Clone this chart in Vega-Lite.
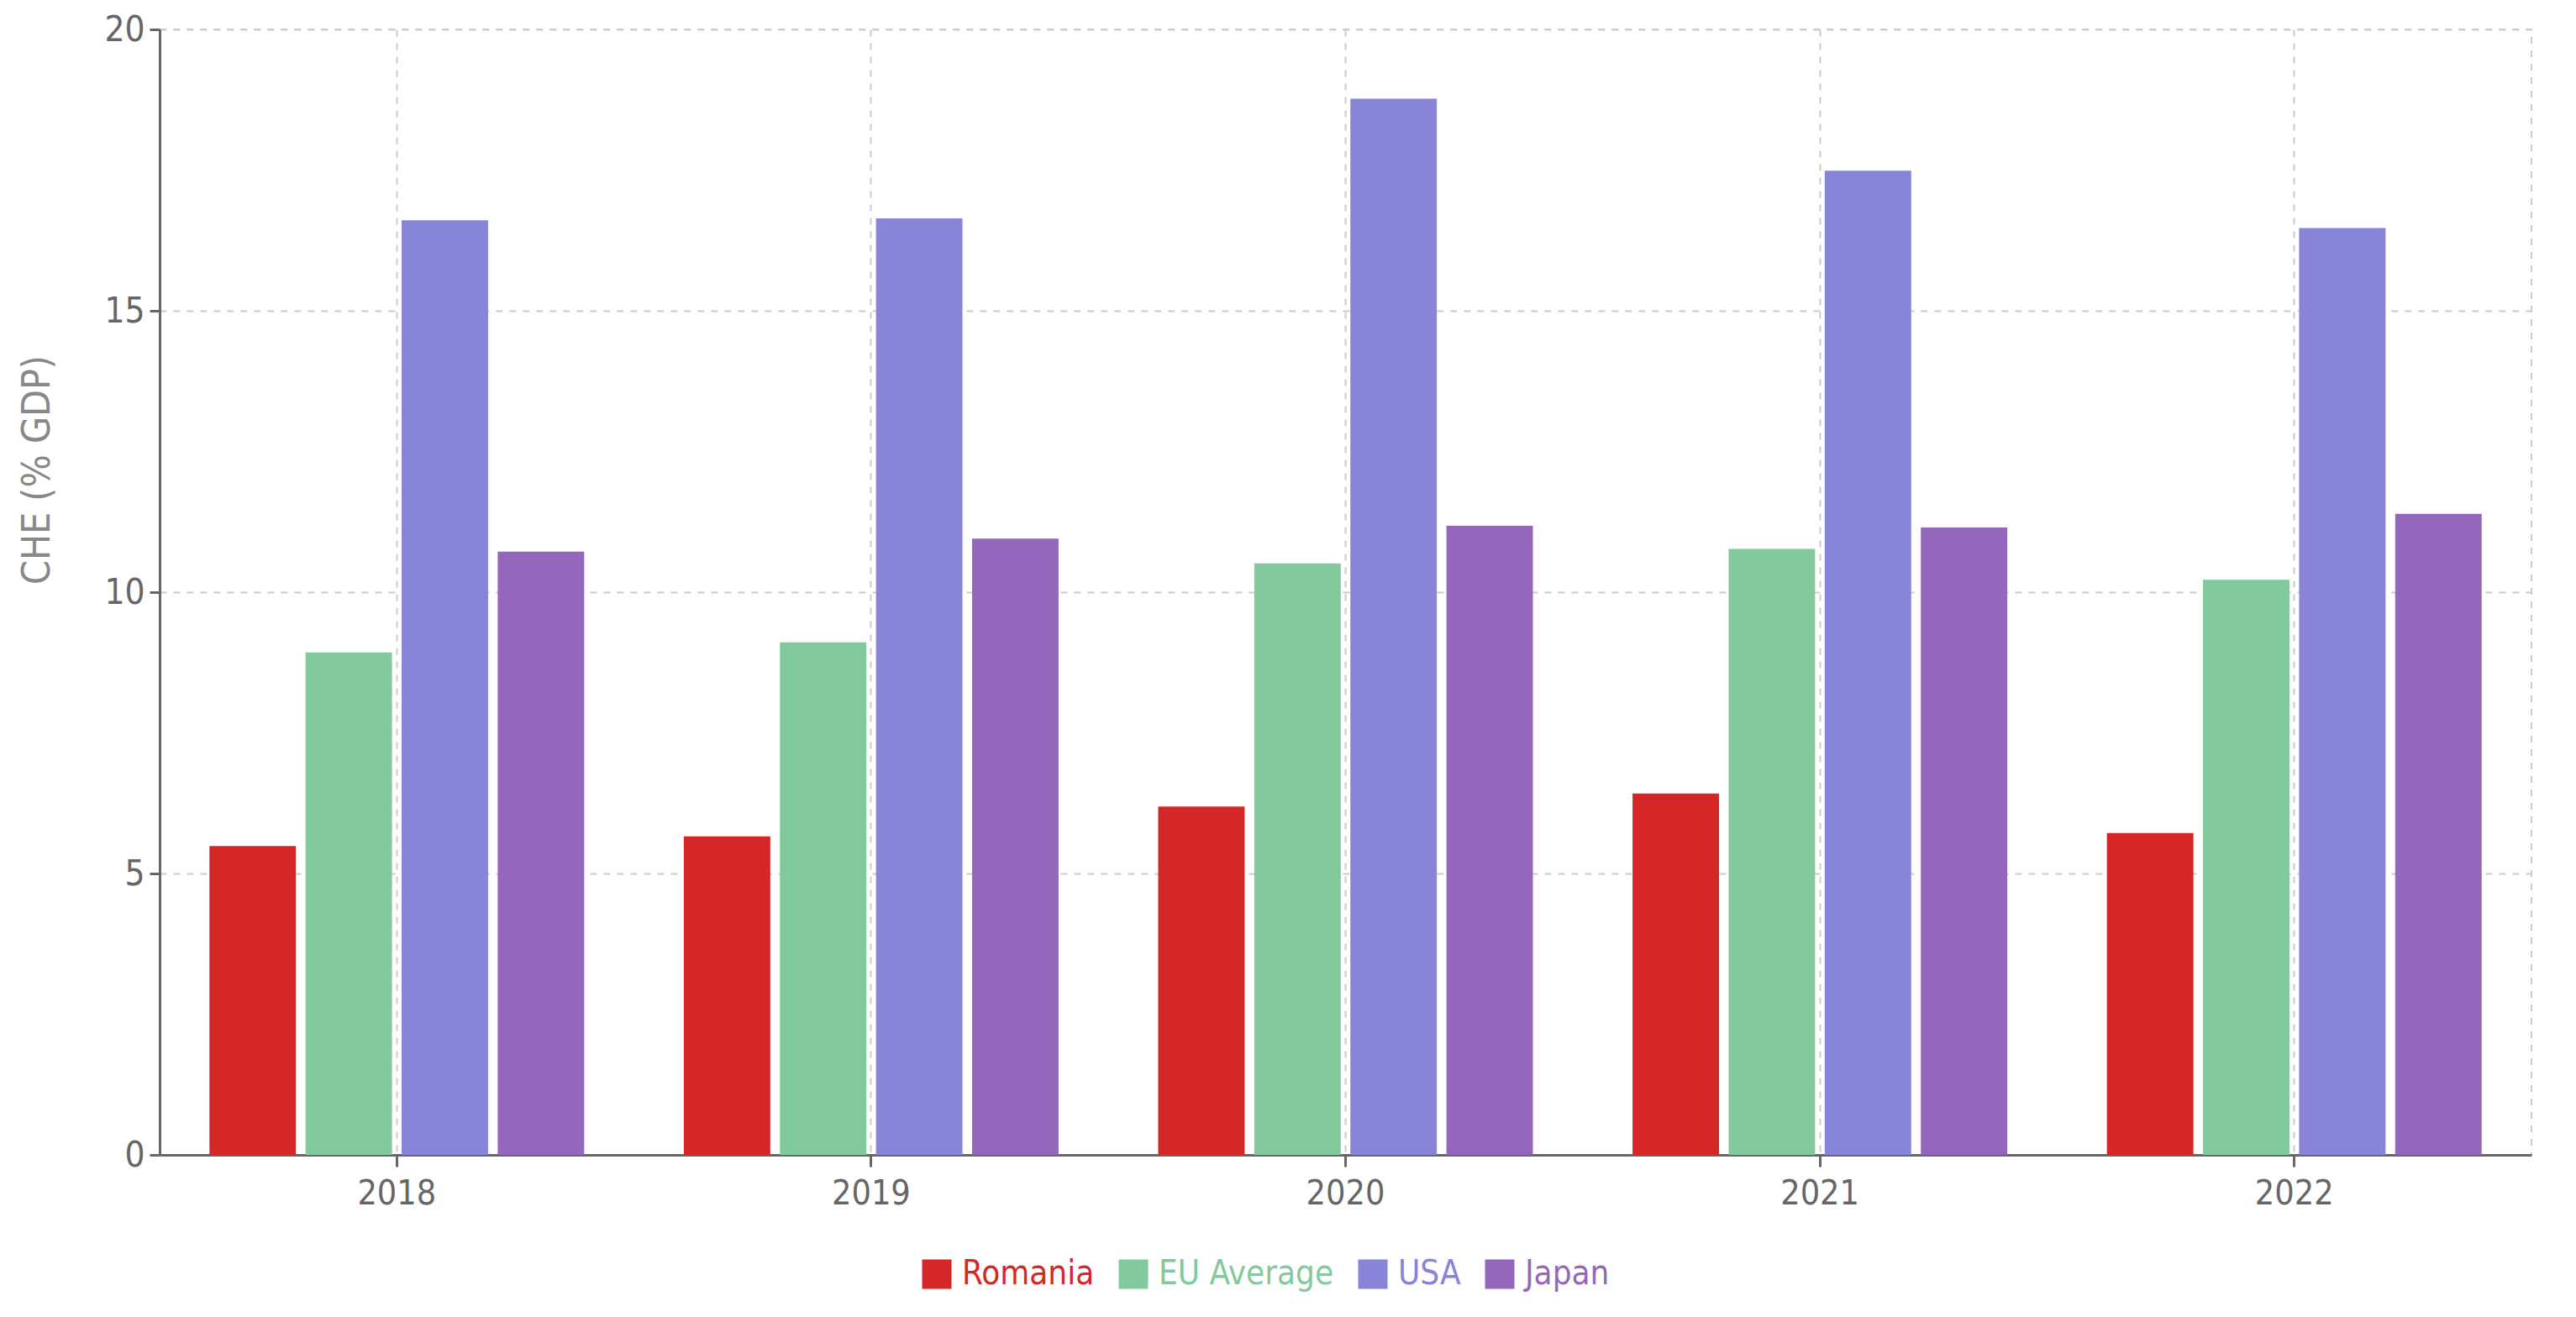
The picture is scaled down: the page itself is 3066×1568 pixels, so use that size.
{
  "$schema": "https://vega.github.io/schema/vega-lite/v6.json",
  "width": 2823,
  "height": 1340,
  "autosize": {"type": "none"},
  "padding": {"left": 190, "top": 35, "right": 53, "bottom": 193},
  "background": "white",
  "config": {
    "font": "DejaVu Sans Condensed, Open Sans, sans-serif",
    "view": {"stroke": "#cccccc", "strokeDash": [8, 8], "strokeWidth": 2}
  },
  "data": {
    "values": [
      {"year": "2018", "country": "Romania", "value": 5.49},
      {"year": "2018", "country": "EU Average", "value": 8.93},
      {"year": "2018", "country": "USA", "value": 16.61},
      {"year": "2018", "country": "Japan", "value": 10.72},
      {"year": "2019", "country": "Romania", "value": 5.66},
      {"year": "2019", "country": "EU Average", "value": 9.11},
      {"year": "2019", "country": "USA", "value": 16.64},
      {"year": "2019", "country": "Japan", "value": 10.95},
      {"year": "2020", "country": "Romania", "value": 6.19},
      {"year": "2020", "country": "EU Average", "value": 10.51},
      {"year": "2020", "country": "USA", "value": 18.77},
      {"year": "2020", "country": "Japan", "value": 11.18},
      {"year": "2021", "country": "Romania", "value": 6.42},
      {"year": "2021", "country": "EU Average", "value": 10.77},
      {"year": "2021", "country": "USA", "value": 17.49},
      {"year": "2021", "country": "Japan", "value": 11.15},
      {"year": "2022", "country": "Romania", "value": 5.72},
      {"year": "2022", "country": "EU Average", "value": 10.22},
      {"year": "2022", "country": "USA", "value": 16.47},
      {"year": "2022", "country": "Japan", "value": 11.39}
    ]
  },
  "mark": {"type": "bar"},
  "encoding": {
    "x": {
      "field": "year",
      "type": "nominal",
      "scale": {"paddingInner": 0.21, "paddingOuter": 0.105},
      "axis": {
        "title": null,
        "labelAngle": 0,
        "labelFontSize": 41,
        "labelColor": "#666666",
        "domainColor": "#666666",
        "domainWidth": 3,
        "tickColor": "#666666",
        "tickWidth": 3,
        "tickSize": 14,
        "labelPadding": 12,
        "grid": true,
        "gridDash": [8, 8],
        "gridColor": "#cccccc",
        "gridWidth": 2,
        "bandPosition": 0.5
      }
    },
    "xOffset": {
      "field": "country",
      "type": "nominal",
      "sort": ["Romania", "EU Average", "USA", "Japan"],
      "scale": {"paddingInner": 0.1, "paddingOuter": 0}
    },
    "y": {
      "field": "value",
      "type": "quantitative",
      "scale": {"domain": [0, 20], "nice": false},
      "axis": {
        "values": [0, 5, 10, 15, 20],
        "title": "CHE (% GDP)",
        "titleFontSize": 46,
        "titleFontWeight": "normal",
        "titleColor": "#888888",
        "titleX": -122,
        "titleY": 524,
        "labelFontSize": 42,
        "labelColor": "#666666",
        "labelPadding": 6,
        "domainColor": "#666666",
        "domainWidth": 3,
        "tickColor": "#666666",
        "tickWidth": 3,
        "tickSize": 12,
        "grid": true,
        "gridDash": [8, 8],
        "gridColor": "#cccccc",
        "gridWidth": 2
      }
    },
    "color": {
      "field": "country",
      "type": "nominal",
      "sort": ["Romania", "EU Average", "USA", "Japan"],
      "scale": {
        "domain": ["Romania", "EU Average", "USA", "Japan"],
        "range": ["#d62728", "#82ca9d", "#8884d8", "#9467bd"]
      },
      "legend": {
        "title": null,
        "orient": "none",
        "legendX": 905,
        "legendY": 1462,
        "direction": "horizontal",
        "columns": 4,
        "symbolType": "square",
        "symbolSize": 1225,
        "symbolStrokeWidth": 0,
        "labelFontSize": 40,
        "labelLimit": 600,
        "labelOffset": 10,
        "columnPadding": 26,
        "encode": {
          "labels": {"update": {"fill": {"scale": "color", "field": "value"}}}
        }
      }
    }
  }
}
